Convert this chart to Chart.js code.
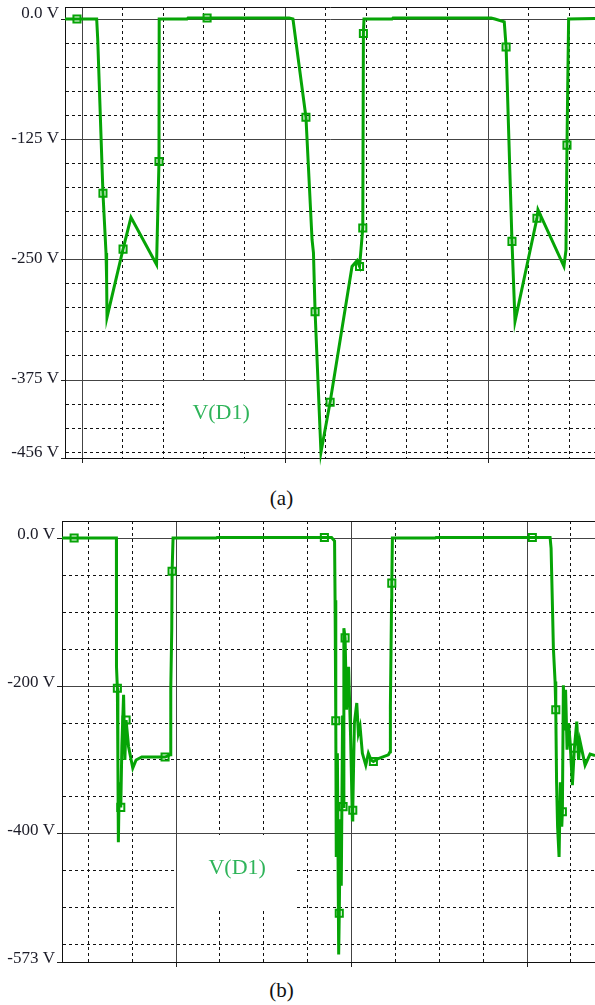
<!DOCTYPE html>
<html>
<head>
<meta charset="utf-8">
<title>V(D1)</title>
<script src="https://cdn.jsdelivr.net/npm/chart.js@4.4.0/dist/chart.umd.min.js"></script>
<style>
  html, body { margin: 0; padding: 0; background: #fff; }
  body { width: 595px; height: 1005px; position: relative; overflow: hidden;
         font-family: "Liberation Serif", "Times New Roman", serif; }
  canvas { position: absolute; left: 0; }
  #plotA { top: 0; }
  #plotB { top: 515px; }
  .caption { position: absolute; left: 0; width: 563px; text-align: center;
             font-size: 21px; line-height: 24px; color: #111; }
</style>
</head>
<body>
<canvas id="plotA" width="595" height="470"></canvas>
<div class="caption" style="top: 486px;">(a)</div>
<canvas id="plotB" width="595" height="460"></canvas>
<div class="caption" style="top: 978px;">(b)</div>

<script>
// trace (a): time in us, voltage in V
var timeA = [-0.84, 0.72, 0.77, 1.03, 1.13, 1.18, 1.21, 1.23, 2.02, 2.41, 3.67, 3.79, 3.80, 5.17, 5.22,
    10.20, 10.39, 11.03, 11.33, 11.40, 11.48, 11.77, 12.22, 13.30, 13.55, 13.67, 13.74, 13.83, 13.86, 13.89,
    15.27, 15.32, 20.15, 20.34, 20.80, 20.89, 21.18, 21.33, 22.41, 22.46, 23.74, 23.84, 23.89, 23.92, 23.97, 25.27];
var voltA = [0, 0, -20, -181, -222, -243, -270, -310, -239, -206, -255, -148, 0, 0, 1,
    1, 0, -102, -229, -243, -304, -450, -398, -257, -251, -257, -240, -217, -15, 0,
    0, 1, 1, 0, -3, -29, -231, -314, -207, -198, -257, -240, -131, -81, 0, 0.5];
var markTimeA = [-0.25, 1.03, 2.02, 3.79, 6.16, 11.03, 11.48, 12.22, 13.67, 13.83, 13.86, 20.89, 21.18, 22.41, 23.89];
var markVoltA = [0, -181, -239, -148, 1, -102, -304, -398, -257, -217, -15, -29, -231, -207, -131];

// trace (b)
var timeB = [-6.50, -3.40, -3.41, -3.38, -3.345, -3.316, -3.288, -3.236, -3.151, -3.088, -2.991, -2.917,
    -2.849, -2.707, -2.467, -2.279, -1.954, -0.627, -0.342, -0.302, -0.245, -0.228, -0.171, 2.279, 2.336,
    8.860, 9.031, 9.060, 9.100, 9.128, 9.191, 9.265, 9.299, 9.356, 9.413, 9.487, 9.516, 9.561, 9.630,
    9.715, 9.829, 9.943, 10.046, 10.068, 10.160, 10.296, 10.387, 10.484, 10.615, 10.809, 10.957, 11.111,
    11.242, 11.527, 12.097, 12.194, 12.211, 12.279, 12.291, 12.325, 14.758, 14.815,
    21.311, 21.368, 21.453, 21.499, 21.595, 21.635, 21.681, 21.738, 21.823, 21.897, 21.977, 22.011,
    22.068, 22.137, 22.194, 22.279, 22.365, 22.450, 22.581, 22.695, 22.832, 22.934, 23.020, 23.305,
    23.590, 23.875];
var voltB = [0, 0, -70, -174, -203, -300, -411, -330, -364, -280, -212, -300,
    -246, -282, -311, -300, -296, -296, -293, -203, -122, -45, 0, 0, 0.8,
    0.8, -4, -84, -247, -431, -291, -563, -507, -380, -470, -240, -363, -122, -135,
    -232, -174, -268, -381, -368, -250, -223, -264, -255, -291, -307, -291, -300,
    -302, -298, -293, -289, -228, -84, -61, 0, 0, 0.8,
    0.8, -14, -100, -149, -194, -232, -330, -390, -431, -330, -390, -370,
    -199, -260, -205, -286, -250, -275, -334, -284, -248, -300, -275, -307,
    -292, -294];
var markTimeB = [-5.81, -3.345, -3.151, -2.849, -0.627, -0.228, 8.45, 9.100, 9.299, 9.516, 9.630, 10.068,
    11.242, 12.291, 20.30, 21.635, 22.011, 22.695];
var markVoltB = [0, -203, -364, -246, -296, -45, 0.8, -247, -507, -363, -135, -368,
    -302, -61, 0.8, -232, -370, -284];

// axes
var yLabelsA = [0, -125, -250, -375, -456];
var yLabelsB = [0, -200, -400, -573];

Chart.defaults.font.family = '"Liberation Serif", "Times New Roman", serif';
Chart.defaults.animation = false;

var traceColor = '#06a406';
var nameColor = '#2fb45a';
var inkColor = '#1c1c28';

// white box with the trace name, drawn over the grid but under the trace
var nameLabel = {
    id: 'nameLabel',
    beforeDatasetsDraw: function (chart, args, opts) {
        var x = chart.scales.x, y = chart.scales.y, ctx = chart.ctx;
        var left = Math.round(x.getPixelForValue(opts.box[0])) + 1;
        var right = Math.round(x.getPixelForValue(opts.box[1]));
        var top = Math.round(y.getPixelForValue(opts.box[2])) + 1;
        var bottom = Math.round(y.getPixelForValue(opts.box[3]));
        ctx.save();
        ctx.fillStyle = '#fff';
        ctx.fillRect(left, top, right - left, bottom - top);
        ctx.fillStyle = nameColor;
        ctx.font = '22px "Liberation Serif"';
        ctx.textAlign = 'center';
        ctx.textBaseline = 'middle';
        ctx.fillText(opts.text, x.getPixelForValue(opts.at[0]), y.getPixelForValue(opts.at[1]));
        ctx.restore();
    }
};

function points(ts, vs) {
    return ts.map(function (t, i) { return {x: t, y: vs[i]}; });
}

function stepValues(from, to, step) {
    var out = [];
    var n = Math.round((to - from) / step);
    for (var i = 0; i <= n; i++) out.push(Math.round((from + i * step) * 1000) / 1000);
    return out;
}

function zeroPadding(scale) {
    scale.paddingTop = 0;
    scale.paddingBottom = 0;
    scale.paddingLeft = 0;
    scale.paddingRight = 0;
}

function setupPlot(canvasId, p) {
    var yTicks = [p.yMax].concat(stepValues(0, Math.ceil(p.yMin / p.yStep) * p.yStep, -p.yStep));
    if (yTicks[yTicks.length - 1] !== p.yMin) yTicks.push(p.yMin);
    var xTicks = stepValues(p.xFirst, p.xLast, p.xStep);

    var yKind = function (v) {
        if (v === p.yMax || v === p.yMin) return 'edge';
        return p.yLabels.indexOf(v) >= 0 ? 'major' : 'minor';
    };
    var xMajor = function (v) { return p.xMajor.indexOf(v) >= 0; };

    var context = document.getElementById(canvasId).getContext('2d');
    return new Chart(context, {
        type: 'line',
        data: {
            datasets: [{
                data: points(p.markTime, p.markVolt),
                showLine: false,
                pointStyle: 'rect',
                pointRadius: 5,
                pointHoverRadius: 5,
                pointBorderWidth: 2,
                pointBorderColor: traceColor,
                pointBackgroundColor: 'rgba(0,0,0,0)',
                borderColor: traceColor,
                clip: 8
            }, {
                data: points(p.time, p.volt),
                borderColor: traceColor,
                backgroundColor: 'rgba(0,0,0,0)',
                borderWidth: 3,
                pointRadius: 0,
                pointHoverRadius: 0,
                tension: 0,
                clip: 8
            }]
        },
        options: {
            responsive: false,
            events: [],
            layout: {padding: p.padding, autoPadding: false},
            scales: {
                x: {
                    type: 'linear',
                    min: p.xMin,
                    max: p.xMax,
                    afterBuildTicks: function (scale) {
                        scale.ticks = xTicks.map(function (v) { return {value: v}; });
                    },
                    afterFit: zeroPadding,
                    ticks: {display: false},
                    grid: {
                        lineWidth: 1,
                        tickLength: 5,
                        color: function (c) { return c.tick && xMajor(c.tick.value) ? '#444' : '#111'; },
                        tickColor: function (c) { return c.tick && xMajor(c.tick.value) ? '#222' : 'rgba(0,0,0,0)'; }
                    },
                    border: {
                        color: '#111',
                        width: 1,
                        dash: function (c) { return c.tick && !xMajor(c.tick.value) ? [3, 3] : []; }
                    }
                },
                y: {
                    type: 'linear',
                    min: p.yMin,
                    max: p.yMax,
                    afterBuildTicks: function (scale) {
                        scale.ticks = yTicks.map(function (v) { return {value: v}; });
                    },
                    afterFit: function (scale) {
                        zeroPadding(scale);
                        scale.width = p.axisWidth;
                    },
                    ticks: {
                        autoSkip: false,
                        padding: 2,
                        labelOffset: p.labelOffset,
                        color: inkColor,
                        font: function (c) {
                            var lift = c.tick && p.yLift.indexOf(c.tick.value) >= 0;
                            return lift ? {size: 17, lineHeight: p.liftPx + 'px'} : {size: 17};
                        },
                        callback: function (v) {
                            if (p.yLabels.indexOf(v) < 0) return '';
                            var text = (v === 0 ? '0.0' : String(v)) + ' V';
                            return p.yLift.indexOf(v) >= 0 ? [text, ''] : text;
                        }
                    },
                    grid: {
                        lineWidth: 1,
                        tickLength: p.tickLength,
                        color: function (c) {
                            if (!c.tick) return '#111';
                            return yKind(c.tick.value) === 'major' ? '#444' : '#111';
                        },
                        tickColor: function (c) {
                            return c.tick && p.yLabels.indexOf(c.tick.value) >= 0 ? '#222' : 'rgba(0,0,0,0)';
                        }
                    },
                    border: {
                        color: '#111',
                        width: 1,
                        dash: function (c) { return c.tick && yKind(c.tick.value) === 'minor' ? [3, 3] : []; }
                    }
                }
            },
            plugins: {
                legend: {display: false},
                tooltip: {enabled: false},
                nameLabel: {text: 'V(D1)', box: p.nameBox, at: p.nameAt}
            }
        },
        plugins: [nameLabel]
    });
}

setupPlot('plotA', {
    time: timeA, volt: voltA, markTime: markTimeA, markVolt: markVoltA,
    xMin: -0.84, xMax: 25.27, xFirst: 0, xLast: 24, xStep: 2, xMajor: [0, 10, 20],
    yMin: -456, yMax: 12.5, yStep: 25, yLabels: yLabelsA, yLift: [0, -456], liftPx: 9,
    labelOffset: -1, axisWidth: 65, tickLength: 4,
    padding: {top: 7, right: 0, bottom: 7, left: 0},
    nameBox: [4, 10, -375, -450], nameAt: [6.85, -409]
});

setupPlot('plotB', {
    time: timeB, volt: voltB, markTime: markTimeB, markVolt: markVoltB,
    xMin: -6.5, xMax: 23.87, xFirst: -5, xLast: 22.5, xStep: 2.5, xMajor: [0, 10, 20],
    yMin: -573, yMax: 23, yStep: 50, yLabels: yLabelsB, yLift: [], liftPx: 9,
    labelOffset: -3, axisWidth: 62, tickLength: 5,
    padding: {top: 6, right: 0, bottom: 8, left: 0},
    nameBox: [0, 6.8, -400, -500], nameAt: [3.48, -446]
});
</script>
</body>
</html>
